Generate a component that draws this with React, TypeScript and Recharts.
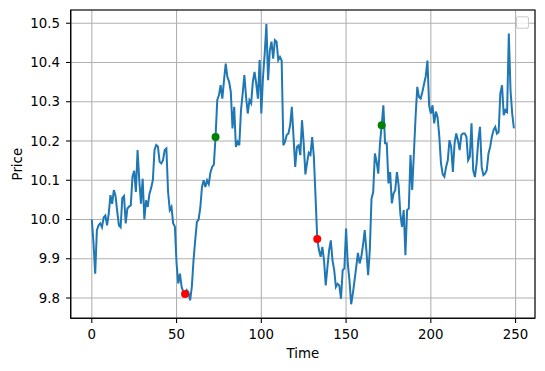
import React from 'react';
import {
  ComposedChart,
  Line,
  Scatter,
  XAxis,
  YAxis,
  CartesianGrid,
  ReferenceArea,
  Customized,
  Label,
} from 'recharts';

const prices: number[] = [
  10.000, 9.940, 9.862, 9.973, 9.985, 9.990, 9.980, 10.005, 10.010, 9.985,
  10.015, 10.062, 10.040, 10.075, 10.060, 10.020, 9.985, 9.980, 10.055, 10.060,
  9.990, 10.028, 10.033, 10.036, 10.109, 10.124, 10.070, 10.177, 10.100, 10.040,
  10.104, 10.000, 10.049, 10.032, 10.065, 10.080, 10.100, 10.177, 10.190, 10.186,
  10.147, 10.143, 10.151, 10.177, 10.181, 10.070, 10.024, 10.032, 9.990, 9.982,
  9.888, 9.837, 9.862, 9.828, 9.815, 9.810, 9.820, 9.815, 9.794, 9.828,
  9.896, 9.947, 9.994, 10.000, 10.030, 10.083, 10.100, 10.083, 10.100, 10.090,
  10.120, 10.134, 10.140, 10.210, 10.304, 10.317, 10.342, 10.308, 10.355, 10.397,
  10.363, 10.351, 10.325, 10.232, 10.287, 10.185, 10.198, 10.189, 10.278, 10.321,
  10.368, 10.312, 10.270, 10.304, 10.296, 10.351, 10.376, 10.346, 10.308, 10.406,
  10.270, 10.363, 10.423, 10.498, 10.355, 10.430, 10.453, 10.410, 10.457, 10.453,
  10.406, 10.414, 10.405, 10.189, 10.198, 10.215, 10.219, 10.240, 10.287, 10.210,
  10.134, 10.185, 10.189, 10.164, 10.253, 10.194, 10.115, 10.145, 10.170, 10.165,
  10.210, 10.160, 10.057, 9.950, 9.922, 9.905, 9.930, 9.896, 9.832, 9.879,
  9.922, 9.947, 9.896, 9.871, 9.828, 9.836, 9.832, 9.798, 9.871, 9.875,
  9.977, 9.888, 9.845, 9.784, 9.811, 9.845, 9.879, 9.915, 9.888, 9.905,
  9.935, 9.973, 9.920, 9.858, 9.922, 10.053, 10.070, 10.168, 10.147, 10.117,
  10.194, 10.240, 10.291, 10.194, 10.194, 10.092, 10.121, 10.041, 10.066, 10.075,
  10.121, 10.087, 10.015, 9.981, 10.024, 9.909, 10.024, 10.028, 10.164, 10.075,
  10.168, 10.261, 10.338, 10.312, 10.308, 10.325, 10.345, 10.365, 10.405, 10.290,
  10.270, 10.291, 10.245, 10.275, 10.260, 10.211, 10.143, 10.115, 10.109, 10.134,
  10.151, 10.202, 10.185, 10.121, 10.194, 10.219, 10.202, 10.177, 10.215, 10.219,
  10.219, 10.211, 10.151, 10.160, 10.245, 10.125, 10.108, 10.143, 10.202, 10.236,
  10.134, 10.113, 10.117, 10.126, 10.168, 10.185, 10.211, 10.228, 10.236, 10.219,
  10.223, 10.321, 10.342, 10.266, 10.279, 10.274, 10.474, 10.330, 10.270, 10.232,
];

const buyTimes: number[] = [73, 171];
const sellTimes: number[] = [55, 133];
const xTicks: number[] = [0, 50, 100, 150, 200, 250];
const yTicks: number[] = [9.8, 9.9, 10.0, 10.1, 10.2, 10.3, 10.4, 10.5];

const data = prices.map((p, i) => ({ t: i, price: p }));
const buys = buyTimes.map((t) => ({ t, price: prices[t] }));
const sells = sellTimes.map((t) => ({ t, price: prices[t] }));

const n = prices.length - 1;
const xMin = -0.05 * n;
const xMax = n * 1.05;
const pMin = Math.min(...prices);
const pMax = Math.max(...prices);
const pr = pMax - pMin;
const yMin = pMin - 0.05 * pr;
const yMax = pMax + 0.05 * pr;

const FONT = 'DejaVu Sans';
const FS = 13.33;

const tickStyle = { fill: '#000', fontSize: FS, fontFamily: FONT };

const LegendFrame = () => (
  <rect
    x={516.5}
    y={16.7}
    width={12}
    height={11.5}
    rx={2}
    ry={2}
    fill="#ffffff"
    fillOpacity={0.8}
    stroke="#cccccc"
    strokeWidth={1.07}
  />
);

export default function App() {
  return (
    <div style={{ position: 'absolute', left: 0, top: 0, background: '#fff' }}>
      <ComposedChart
        width={545}
        height={371}
        data={data}
        margin={{ top: 10, right: 10, left: 0, bottom: 0 }}
      >
        <CartesianGrid stroke="#b0b0b0" strokeWidth={1.07} />
        <XAxis
          dataKey="t"
          type="number"
          domain={[xMin, xMax]}
          ticks={xTicks}
          allowDataOverflow
          height={52.7}
          tick={tickStyle}
          tickSize={4.67}
          tickMargin={7}
          tickLine={{ stroke: '#000', strokeWidth: 1.07 }}
          axisLine={{ stroke: '#000', strokeWidth: 1.07 }}
        >
          <Label
            value="Time"
            position="insideBottom"
            offset={13.3}
            style={{ fill: '#000', fontSize: FS, fontFamily: FONT }}
          />
        </XAxis>
        <YAxis
          type="number"
          domain={[yMin, yMax]}
          ticks={yTicks}
          allowDataOverflow
          width={70.7}
          tick={tickStyle}
          tickSize={4.67}
          tickMargin={6}
          tickFormatter={(v: number) => v.toFixed(1)}
          tickLine={{ stroke: '#000', strokeWidth: 1.07 }}
          axisLine={{ stroke: '#000', strokeWidth: 1.07 }}
        >
          <Label
            value="Price"
            angle={-90}
            position="insideLeft"
            offset={17}
            style={{ fill: '#000', fontSize: FS, fontFamily: FONT, textAnchor: 'middle' }}
          />
        </YAxis>
        <Line
          type="linear"
          dataKey="price"
          stroke="#1f77b4"
          strokeWidth={2}
          dot={false}
          activeDot={false}
          isAnimationActive={false}
        />
        <Scatter
          data={sells}
          dataKey="price"
          fill="#ff0000"
          isAnimationActive={false}
          shape={(p: any) => <circle cx={p.cx} cy={p.cy} r={4} fill="#ff0000" />}
        />
        <Scatter
          data={buys}
          dataKey="price"
          fill="#008000"
          isAnimationActive={false}
          shape={(p: any) => <circle cx={p.cx} cy={p.cy} r={4} fill="#008000" />}
        />
        <ReferenceArea
          x1={xMin}
          x2={xMax}
          y1={yMin}
          y2={yMax}
          fill="none"
          fillOpacity={0}
          stroke="#000"
          strokeWidth={1.07}
          ifOverflow="visible"
        />
        <Customized component={LegendFrame} />
      </ComposedChart>
    </div>
  );
}
